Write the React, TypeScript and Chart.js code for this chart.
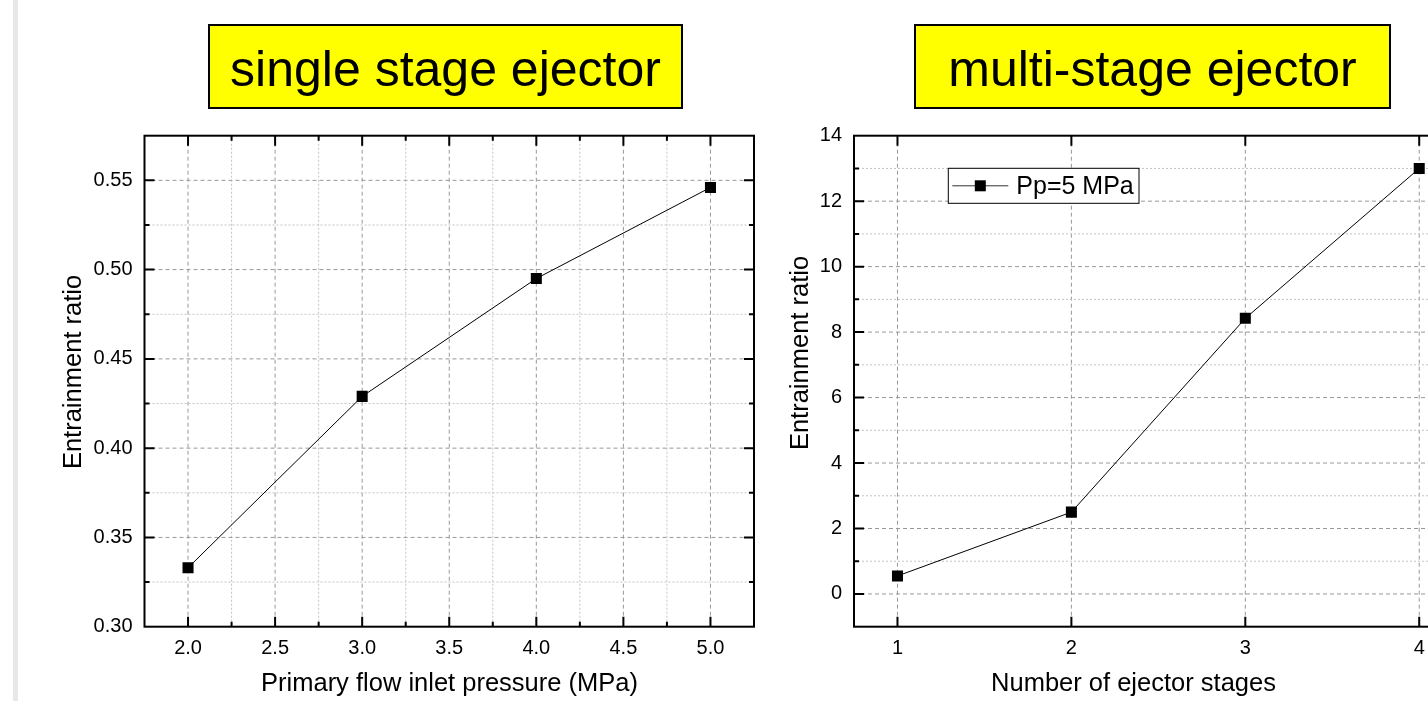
import React, { useEffect, useRef } from 'react';
import { Chart, registerables } from 'chart.js';
Chart.register(...registerables);

const FONT = "'Liberation Sans', Arial, Helvetica, sans-serif";

// ---- single stage ejector ----
const pressures = [2.0, 3.0, 4.0, 5.0];
const singleRatio = [0.333, 0.429, 0.495, 0.546];
const pressureTicks = [2.0, 2.5, 3.0, 3.5, 4.0, 4.5, 5.0];
const singleRatioTicks = [0.3, 0.35, 0.4, 0.45, 0.5, 0.55];

// ---- multi-stage ejector ----
const stages = [1, 2, 3, 4];
const multiRatio = [0.55, 2.5, 8.42, 13.0];
const stageTicks = [1, 2, 3, 4];
const multiRatioTicks = [0, 2, 4, 6, 8, 10, 12, 14];
const legendLabel = 'Pp=5 MPa';

const titleLeft = 'single stage ejector';
const titleRight = 'multi-stage ejector';
const yTitle = 'Entrainment ratio';
const xTitleLeft = 'Primary flow inlet pressure (MPa)';
const xTitleRight = 'Number of ejector stages';

const near = (a: number, b: number) => Math.abs(a - b) < 1e-6;
function stepValues(min: number, max: number, step: number) {
  const out: number[] = [];
  const s = Math.ceil(min / step - 1e-9);
  const e = Math.floor(max / step + 1e-9);
  for (let k = s; k <= e; k++) out.push(+(k * step).toFixed(6));
  return out;
}

const originPlugin = {
  id: 'originFrame',
  beforeDatasetsDraw(chart: any, _a: any, o: any) {
    const { ctx, chartArea: a } = chart;
    const xs = chart.scales.x, ys = chart.scales.y;
    ctx.save();
    ctx.lineWidth = 1;
    for (const v of stepValues(xs.min, xs.max, o.xMinor)) {
      const px = xs.getPixelForValue(v);
      if (px < a.left + 2 || px > a.right - 2) continue;
      const major = o.xMajor.some((m: number) => near(m, v));
      ctx.strokeStyle = major ? '#999999' : '#c4c4c4';
      ctx.setLineDash(major ? [4, 3] : [2, 2]);
      ctx.beginPath();
      ctx.moveTo(px, a.top);
      ctx.lineTo(px, a.bottom);
      ctx.stroke();
    }
    for (const v of stepValues(ys.min, ys.max, o.yMinor)) {
      const py = ys.getPixelForValue(v);
      if (py < a.top + 2 || py > a.bottom - 2) continue;
      const major = o.yMajor.some((m: number) => near(m, v));
      ctx.strokeStyle = major ? '#999999' : '#c4c4c4';
      ctx.setLineDash(major ? [4, 3] : [2, 2]);
      ctx.beginPath();
      ctx.moveTo(a.left, py);
      ctx.lineTo(a.right, py);
      ctx.stroke();
    }
    ctx.restore();
  },
  afterDatasetsDraw(chart: any, _a: any, o: any) {
    const { ctx, chartArea: a } = chart;
    const xs = chart.scales.x, ys = chart.scales.y;
    ctx.save();
    ctx.setLineDash([]);
    ctx.strokeStyle = '#000';
    ctx.lineWidth = 2;
    ctx.strokeRect(a.left, a.top, a.right - a.left, a.bottom - a.top);
    ctx.beginPath();
    for (const v of stepValues(xs.min, xs.max, o.xMinor)) {
      const px = xs.getPixelForValue(v);
      if (px < a.left + 2 || px > a.right - 2) continue;
      const len = o.xMajor.some((m: number) => near(m, v)) ? 10 : 5;
      ctx.moveTo(px, a.bottom);
      ctx.lineTo(px, a.bottom - len);
      ctx.moveTo(px, a.top);
      ctx.lineTo(px, a.top + len);
    }
    for (const v of stepValues(ys.min, ys.max, o.yMinor)) {
      const py = ys.getPixelForValue(v);
      if (py < a.top + 2 || py > a.bottom - 2) continue;
      const len = o.yMajor.some((m: number) => near(m, v)) ? 10 : 5;
      ctx.moveTo(a.left, py);
      ctx.lineTo(a.left + len, py);
      ctx.moveTo(a.right, py);
      ctx.lineTo(a.right - len, py);
    }
    ctx.stroke();

    if (o.legend) {
      const L = o.legend;
      const ds = chart.data.datasets[0];
      ctx.fillStyle = '#fff';
      ctx.fillRect(L.x, L.y, L.w, L.h);
      ctx.lineWidth = 1;
      ctx.strokeStyle = '#000';
      ctx.strokeRect(L.x, L.y, L.w, L.h);
      const cy = L.y + L.h / 2;
      ctx.strokeStyle = '#333';
      ctx.beginPath();
      ctx.moveTo(L.x + 4, cy);
      ctx.lineTo(L.x + 60, cy);
      ctx.stroke();
      ctx.fillStyle = '#000';
      ctx.fillRect(L.x + 32 - 5.5, cy - 5.5, 11, 11);
      ctx.font = `25px ${FONT}`;
      ctx.textAlign = 'left';
      ctx.textBaseline = 'middle';
      ctx.fillText(ds.label, L.x + 68, cy + 1);
    }

    ctx.fillStyle = '#000';
    ctx.font = `25.5px ${FONT}`;
    ctx.textAlign = 'center';
    ctx.textBaseline = 'middle';
    for (const t of o.titles || []) {
      ctx.save();
      ctx.translate(t.x, t.y);
      if (t.rot) ctx.rotate(t.rot);
      ctx.fillText(t.text, 0, 0);
      ctx.restore();
    }
    ctx.restore();
  },
};

const dsStyle = {
  borderColor: '#000',
  backgroundColor: '#000',
  borderWidth: 1,
  pointStyle: 'rect',
  pointRadius: 7.8,
  pointBorderWidth: 0,
  pointBackgroundColor: '#000',
  tension: 0,
};

const tickFont = { family: FONT, size: 20 };

function leftConfig(): any {
  return {
    type: 'line',
    data: {
      datasets: [
        { label: 'single stage', data: pressures.map((x, i) => ({ x, y: singleRatio[i] })), ...dsStyle },
      ],
    },
    options: {
      responsive: false,
      animation: false,
      layout: { padding: { left: 44.5, right: 26, top: 135.7, bottom: 14.3 } },
      plugins: {
        legend: { display: false },
        tooltip: { enabled: false },
        originFrame: {
          xMajor: pressureTicks, xMinor: 0.25, yMajor: singleRatioTicks, yMinor: 0.025,
          titles: [
            { text: yTitle, x: 74, y: 372, rot: -Math.PI / 2 },
            { text: xTitleLeft, x: 449.5, y: 684 },
          ],
        },
      },
      scales: {
        x: {
          type: 'linear', min: 1.75, max: 5.25,
          grid: { display: false }, border: { display: false },
          afterBuildTicks: (s: any) => { s.ticks = pressureTicks.map((v) => ({ value: v })); },
          afterFit: (s: any) => { s.height = 60; },
          ticks: { padding: 2, color: '#000', font: tickFont, autoSkip: false, maxRotation: 0, callback: (v: any) => Number(v).toFixed(1) },
        },
        y: {
          type: 'linear', min: 0.3, max: 0.575,
          grid: { display: false }, border: { display: false },
          afterBuildTicks: (s: any) => { s.ticks = singleRatioTicks.map((v) => ({ value: v })); },
          afterFit: (s: any) => { s.width = 100; },
          ticks: { padding: 4, color: '#000', font: tickFont, autoSkip: false, callback: (v: any) => Number(v).toFixed(2) },
        },
      },
    },
    plugins: [originPlugin],
  };
}

function rightConfig(): any {
  return {
    type: 'line',
    data: {
      datasets: [
        { label: legendLabel, data: stages.map((x, i) => ({ x, y: multiRatio[i] })), ...dsStyle },
      ],
    },
    options: {
      responsive: false,
      animation: false,
      layout: { padding: { left: 14, right: 77.3, top: 135.7, bottom: 14.3 } },
      plugins: {
        legend: { display: false },
        tooltip: { enabled: false },
        originFrame: {
          xMajor: stageTicks, xMinor: 1, yMajor: multiRatioTicks, yMinor: 1,
          legend: { x: 168.3, y: 168.3, w: 190.7, h: 35 },
          titles: [
            { text: yTitle, x: 21, y: 353, rot: -Math.PI / 2 },
            { text: xTitleRight, x: 353.5, y: 684 },
          ],
        },
      },
      scales: {
        x: {
          type: 'linear', min: 0.75, max: 4.25,
          grid: { display: false }, border: { display: false },
          afterBuildTicks: (s: any) => { s.ticks = stageTicks.map((v) => ({ value: v })); },
          afterFit: (s: any) => { s.height = 60; },
          ticks: { padding: 2, color: '#000', font: tickFont, autoSkip: false, maxRotation: 0, callback: (v: any) => String(v) },
        },
        y: {
          type: 'linear', min: -1, max: 14,
          grid: { display: false }, border: { display: false },
          afterBuildTicks: (s: any) => { s.ticks = multiRatioTicks.map((v) => ({ value: v })); },
          afterFit: (s: any) => { s.width = 60; },
          ticks: { padding: 4, color: '#000', font: tickFont, autoSkip: false, callback: (v: any) => String(v) },
        },
      },
    },
    plugins: [originPlugin],
  };
}

function ChartCanvas({ config, left, width }: { config: () => any; left: number; width: number }) {
  const ref = useRef<HTMLCanvasElement | null>(null);
  useEffect(() => {
    if (!ref.current) return;
    const c = new Chart(ref.current, config());
    return () => c.destroy();
  }, [config]);
  return (
    <canvas
      ref={ref}
      width={width}
      height={701}
      style={{ position: 'absolute', left, top: 0, width, height: 701, display: 'block' }}
    />
  );
}

const boxStyle = (left: number, width: number): React.CSSProperties => ({
  position: 'absolute',
  left,
  top: 24,
  width,
  height: 85,
  boxSizing: 'border-box',
  background: '#ffff00',
  border: '2px solid #000',
  display: 'flex',
  alignItems: 'center',
  justifyContent: 'center',
  paddingTop: 4,
  fontFamily: FONT,
  fontSize: 50,
  color: '#000',
  whiteSpace: 'nowrap',
});

export default function App() {
  return (
    <div
      style={{
        position: 'fixed', left: 0, top: 0, width: 1428, height: 701,
        overflow: 'hidden', background: '#fff', fontFamily: FONT,
      }}
    >
      <div style={{ position: 'absolute', left: 13, top: 0, width: 5, height: 701, background: '#e8e8e8' }} />
      <ChartCanvas config={leftConfig} left={0} width={780} />
      <ChartCanvas config={rightConfig} left={780} width={760} />
      <div style={boxStyle(208, 475)}>{titleLeft}</div>
      <div style={boxStyle(914, 477)}>{titleRight}</div>
    </div>
  );
}
